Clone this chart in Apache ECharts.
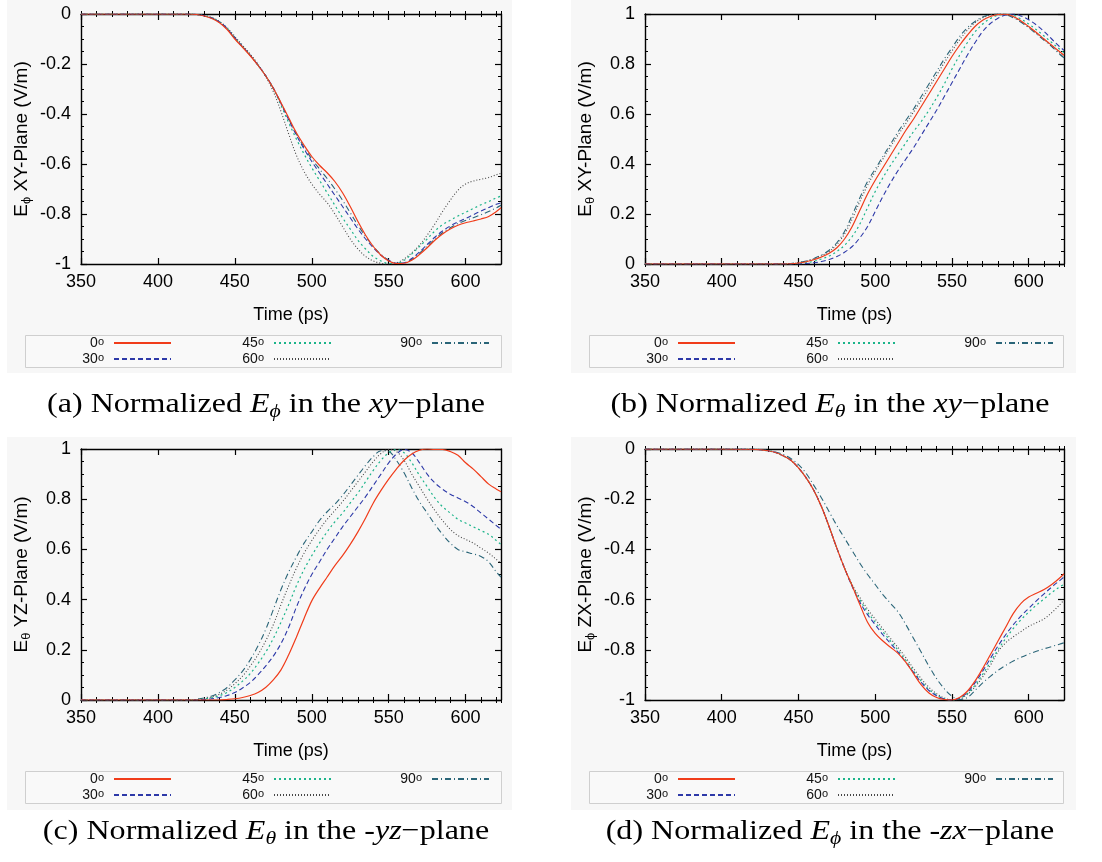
<!DOCTYPE html>
<html>
<head>
<meta charset="utf-8">
<script src="https://cdn.jsdelivr.net/npm/echarts@6/dist/echarts.min.js"></script>
<style>
  html, body { margin: 0; padding: 0; background: #ffffff; }
  #chart { width: 1102px; height: 862px; }
</style>
</head>
<body>
<div id="chart"></div>
<script>
// Sample times (ps), shared by every curve
const time = [350, 400, 420, 425, 430, 435, 440, 445, 450, 455, 460, 465, 470, 475,
  480, 485, 490, 495, 500, 505, 510, 515, 520, 525, 530, 535, 540, 545, 550, 555,
  560, 565, 570, 575, 580, 585, 590, 595, 600, 605, 610, 615, 620, 623];

// Observation angles (degrees) used as series names
const angles = ['0', '30', '45', '60', '90'];
const xTickValues = [350, 400, 450, 500, 550, 600];

// (a) normalized E_phi, xy-plane
const xyPhi0 = [0, 0, 0, -0.002, -0.008, -0.018, -0.035, -0.062, -0.1, -0.133, -0.167, -0.205, -0.247, -0.297, -0.355, -0.415, -0.475, -0.525, -0.57, -0.605, -0.635, -0.67, -0.715, -0.77, -0.83, -0.885, -0.93, -0.965, -0.988, -0.998, -0.997, -0.985, -0.962, -0.935, -0.905, -0.88, -0.86, -0.845, -0.835, -0.828, -0.82, -0.81, -0.79, -0.775];
const xyPhi30 = [0, 0, 0, -0.002, -0.007, -0.016, -0.032, -0.058, -0.095, -0.13, -0.165, -0.204, -0.246, -0.296, -0.358, -0.423, -0.485, -0.54, -0.59, -0.635, -0.68, -0.725, -0.77, -0.815, -0.86, -0.9, -0.935, -0.965, -0.985, -0.997, -0.995, -0.978, -0.952, -0.922, -0.893, -0.868, -0.848, -0.832, -0.818, -0.803, -0.788, -0.774, -0.761, -0.755];
const xyPhi45 = [0, 0, 0, -0.002, -0.007, -0.016, -0.032, -0.058, -0.095, -0.13, -0.165, -0.204, -0.246, -0.298, -0.365, -0.435, -0.5, -0.56, -0.615, -0.665, -0.715, -0.765, -0.815, -0.86, -0.905, -0.94, -0.97, -0.988, -0.998, -0.998, -0.985, -0.96, -0.93, -0.9, -0.868, -0.843, -0.825, -0.808, -0.793, -0.778, -0.763, -0.75, -0.735, -0.728];
const xyPhi60 = [0, 0, 0, -0.002, -0.006, -0.014, -0.03, -0.055, -0.09, -0.125, -0.16, -0.2, -0.25, -0.31, -0.39, -0.48, -0.565, -0.63, -0.68, -0.72, -0.755, -0.8, -0.85, -0.9, -0.94, -0.97, -0.988, -0.997, -1.0, -0.995, -0.98, -0.955, -0.925, -0.885, -0.84, -0.79, -0.745, -0.705, -0.68, -0.668, -0.661, -0.654, -0.643, -0.637];
const xyPhi90 = [0, 0, 0, -0.002, -0.007, -0.016, -0.033, -0.06, -0.097, -0.132, -0.166, -0.205, -0.247, -0.297, -0.357, -0.42, -0.48, -0.533, -0.58, -0.62, -0.658, -0.7, -0.745, -0.795, -0.845, -0.89, -0.93, -0.962, -0.985, -0.997, -0.996, -0.982, -0.957, -0.928, -0.9, -0.875, -0.855, -0.838, -0.826, -0.815, -0.803, -0.79, -0.775, -0.765];

// (b) normalized E_theta, xy-plane
const xyTheta0 = [0, 0, 0, 0, 0, 0, 0, 0.001, 0.004, 0.009, 0.017, 0.028, 0.043, 0.065, 0.1, 0.15, 0.215, 0.28, 0.335, 0.385, 0.435, 0.485, 0.535, 0.58, 0.63, 0.68, 0.73, 0.78, 0.83, 0.875, 0.915, 0.95, 0.975, 0.99, 0.998, 0.999, 0.99, 0.972, 0.95, 0.926, 0.9, 0.875, 0.85, 0.835];
const xyTheta30 = [0, 0, 0, 0, 0, 0, 0, 0, 0, 0.002, 0.005, 0.01, 0.018, 0.03, 0.047, 0.07, 0.105, 0.15, 0.21, 0.27, 0.325, 0.375, 0.42, 0.465, 0.515, 0.565, 0.615, 0.67, 0.725, 0.78, 0.835, 0.885, 0.93, 0.962, 0.983, 0.996, 1.0, 0.992, 0.977, 0.956, 0.93, 0.9, 0.87, 0.855];
const xyTheta45 = [0, 0, 0, 0, 0, 0, 0, 0, 0.002, 0.005, 0.011, 0.02, 0.032, 0.05, 0.075, 0.11, 0.16, 0.225, 0.29, 0.345, 0.395, 0.44, 0.485, 0.53, 0.57, 0.615, 0.665, 0.72, 0.78, 0.835, 0.885, 0.928, 0.96, 0.982, 0.995, 1.0, 0.995, 0.98, 0.96, 0.937, 0.912, 0.886, 0.86, 0.845];
const xyTheta60 = [0, 0, 0, 0, 0, 0, 0.001, 0.001, 0.005, 0.011, 0.02, 0.033, 0.05, 0.078, 0.12, 0.18, 0.25, 0.315, 0.37, 0.42, 0.47, 0.517, 0.562, 0.608, 0.655, 0.705, 0.755, 0.805, 0.852, 0.897, 0.935, 0.965, 0.985, 0.995, 1.0, 0.998, 0.988, 0.97, 0.948, 0.923, 0.898, 0.873, 0.845, 0.83];
const xyTheta90 = [0, 0, 0, 0, 0, 0, 0.001, 0.002, 0.006, 0.012, 0.022, 0.036, 0.055, 0.085, 0.13, 0.195, 0.265, 0.33, 0.38, 0.43, 0.48, 0.53, 0.575, 0.62, 0.67, 0.72, 0.77, 0.82, 0.865, 0.91, 0.945, 0.97, 0.988, 0.997, 1.0, 0.997, 0.985, 0.967, 0.945, 0.92, 0.895, 0.87, 0.84, 0.825];

// (c) normalized E_theta, -yz-plane
const yzTheta0 = [0, 0, 0, 0, 0, 0, 0, 0.002, 0.005, 0.01, 0.018, 0.03, 0.05, 0.08, 0.12, 0.18, 0.25, 0.325, 0.395, 0.445, 0.49, 0.535, 0.575, 0.62, 0.67, 0.725, 0.785, 0.835, 0.88, 0.92, 0.955, 0.98, 0.995, 1.0, 0.998, 0.998, 0.99, 0.975, 0.945, 0.92, 0.89, 0.86, 0.84, 0.83];
const yzTheta30 = [0, 0, 0, 0, 0.002, 0.005, 0.01, 0.018, 0.03, 0.048, 0.07, 0.1, 0.135, 0.175, 0.225, 0.29, 0.37, 0.44, 0.5, 0.55, 0.6, 0.645, 0.69, 0.73, 0.77, 0.81, 0.855, 0.9, 0.945, 0.98, 0.998, 0.985, 0.945, 0.9, 0.865, 0.84, 0.82, 0.805, 0.79, 0.77, 0.745, 0.72, 0.695, 0.68];
const yzTheta45 = [0, 0, 0, 0.001, 0.004, 0.009, 0.017, 0.03, 0.05, 0.075, 0.105, 0.145, 0.19, 0.245, 0.31, 0.38, 0.455, 0.52, 0.575, 0.625, 0.67, 0.71, 0.745, 0.785, 0.825, 0.87, 0.915, 0.955, 0.985, 0.998, 0.985, 0.945, 0.895, 0.85, 0.805, 0.77, 0.745, 0.72, 0.705, 0.69, 0.675, 0.66, 0.635, 0.62];
const yzTheta60 = [0, 0, 0, 0.002, 0.006, 0.012, 0.023, 0.04, 0.065, 0.095, 0.135, 0.18, 0.235, 0.3, 0.38, 0.455, 0.525, 0.585, 0.635, 0.68, 0.72, 0.755, 0.79, 0.83, 0.87, 0.91, 0.95, 0.982, 0.998, 0.99, 0.955, 0.9, 0.85, 0.8, 0.755, 0.715, 0.68, 0.655, 0.64, 0.625, 0.605, 0.585, 0.56, 0.545];
const yzTheta90 = [0, 0, 0, 0.003, 0.008, 0.016, 0.03, 0.05, 0.08, 0.115, 0.16, 0.215, 0.28, 0.36, 0.44, 0.51, 0.57, 0.625, 0.67, 0.715, 0.75, 0.78, 0.815, 0.855, 0.895, 0.935, 0.97, 0.993, 0.99, 0.955, 0.905, 0.845, 0.79, 0.745, 0.7, 0.66, 0.625, 0.6, 0.59, 0.582, 0.572, 0.55, 0.51, 0.49];

// (d) normalized E_phi, -zx-plane
const zxPhi0 = [0, 0, -0.001, -0.003, -0.007, -0.014, -0.027, -0.045, -0.075, -0.115, -0.165, -0.23, -0.31, -0.395, -0.475, -0.545, -0.62, -0.69, -0.735, -0.765, -0.79, -0.815, -0.85, -0.895, -0.94, -0.972, -0.99, -0.998, -1.0, -0.99, -0.965, -0.925, -0.875, -0.82, -0.765, -0.71, -0.655, -0.615, -0.59, -0.575, -0.56, -0.54, -0.515, -0.497];
const zxPhi30 = [0, 0, -0.001, -0.003, -0.007, -0.014, -0.027, -0.045, -0.075, -0.115, -0.165, -0.23, -0.31, -0.395, -0.475, -0.548, -0.61, -0.66, -0.7, -0.74, -0.775, -0.81, -0.85, -0.89, -0.93, -0.962, -0.983, -0.996, -1.0, -0.992, -0.97, -0.932, -0.885, -0.835, -0.785, -0.74, -0.7, -0.665, -0.635, -0.605, -0.577, -0.55, -0.525, -0.51];
const zxPhi45 = [0, 0, -0.001, -0.003, -0.007, -0.014, -0.027, -0.045, -0.075, -0.115, -0.165, -0.23, -0.31, -0.395, -0.475, -0.545, -0.6, -0.65, -0.69, -0.728, -0.765, -0.803, -0.842, -0.885, -0.925, -0.958, -0.98, -0.995, -1.0, -0.994, -0.975, -0.942, -0.898, -0.85, -0.8, -0.755, -0.715, -0.68, -0.65, -0.622, -0.597, -0.572, -0.55, -0.54];
const zxPhi60 = [0, 0, -0.001, -0.003, -0.007, -0.014, -0.027, -0.045, -0.075, -0.115, -0.165, -0.23, -0.31, -0.395, -0.473, -0.54, -0.592, -0.638, -0.678, -0.717, -0.755, -0.792, -0.832, -0.875, -0.915, -0.95, -0.975, -0.992, -1.0, -0.996, -0.978, -0.948, -0.908, -0.862, -0.808, -0.772, -0.748, -0.727, -0.707, -0.692, -0.677, -0.652, -0.622, -0.602];
const zxPhi90 = [0, 0, 0, -0.002, -0.006, -0.012, -0.022, -0.038, -0.062, -0.097, -0.145, -0.195, -0.25, -0.305, -0.355, -0.405, -0.455, -0.5, -0.54, -0.58, -0.615, -0.65, -0.7, -0.755, -0.81, -0.865, -0.915, -0.955, -0.985, -0.998, -0.99, -0.962, -0.932, -0.906, -0.882, -0.862, -0.845, -0.83, -0.817, -0.806, -0.796, -0.787, -0.778, -0.772];

// Line appearance per angle
const lineLook = {
  '0':  { color: '#f03c1a', type: 'solid', width: 1.2 },
  '30': { color: '#2d39a8', type: [5, 3], width: 1.1 },
  '45': { color: '#1cb48a', type: [2, 3], width: 1.2 },
  '60': { color: '#474747', type: [1, 2], width: 1.1 },
  '90': { color: '#2a6578', type: [6, 3, 1, 3], width: 1.1 }
};

const SANS = '"Liberation Sans", Arial, sans-serif';
const SERIF = '"Liberation Serif", "Times New Roman", serif';
const W = 1102;

const panels = [
  { grid: { left: 81, top: 14, width: 420, height: 250 }, yMin: -1, yMax: 0,
    sym: 'ϕ', plane: 'XY', curves: [xyPhi0, xyPhi30, xyPhi45, xyPhi60, xyPhi90],
    bg: [7, 0, 505, 373], box: [25, 335, 476, 32], legendTop: 336,
    cap: { x: 266, y: 405, tag: '(a)', sym: 'ϕ', pre: '', plane: 'xy' } },
  { grid: { left: 645, top: 14, width: 419, height: 250 }, yMin: 0, yMax: 1,
    sym: 'θ', plane: 'XY', curves: [xyTheta0, xyTheta30, xyTheta45, xyTheta60, xyTheta90],
    bg: [571, 0, 505, 373], box: [589, 335, 474, 32], legendTop: 336,
    cap: { x: 830, y: 405, tag: '(b)', sym: 'θ', pre: '', plane: 'xy' } },
  { grid: { left: 81, top: 449, width: 420, height: 251 }, yMin: 0, yMax: 1,
    sym: 'θ', plane: 'YZ', curves: [yzTheta0, yzTheta30, yzTheta45, yzTheta60, yzTheta90],
    bg: [7, 437, 505, 373], box: [25, 771, 476, 32], legendTop: 772,
    cap: { x: 266, y: 832, tag: '(c)', sym: 'θ', pre: '-', plane: 'yz' } },
  { grid: { left: 645, top: 449, width: 419, height: 251 }, yMin: -1, yMax: 0,
    sym: 'ϕ', plane: 'ZX', curves: [zxPhi0, zxPhi30, zxPhi45, zxPhi60, zxPhi90],
    bg: [571, 437, 505, 373], box: [589, 771, 474, 32], legendTop: 772,
    cap: { x: 830, y: 832, tag: '(d)', sym: 'ϕ', pre: '-', plane: 'zx' } }
];

const grid = [], xAxis = [], yAxis = [], series = [], legend = [], graphic = [];

const frame = { show: true, onZero: false, lineStyle: { color: '#000', width: 1.4 } };

panels.forEach((p, i) => {
  grid.push(Object.assign({ containLabel: false }, p.grid));

  const xBase = { gridIndex: i, type: 'value', min: 350, max: 623, splitLine: { show: false } };
  // bottom axis with labels and major ticks
  xAxis.push(Object.assign({}, xBase, {
    position: 'bottom', interval: 50, axisLine: frame,
    axisTick: { inside: true, length: 6, lineStyle: { color: '#000', width: 1.2 },
      customValues: xTickValues },
    axisLabel: { fontFamily: SANS, fontSize: 18, color: '#000', margin: 9,
      customValues: xTickValues },
    name: 'Time (ps)', nameLocation: 'middle', nameGap: 42,
    nameTextStyle: { fontFamily: SANS, fontSize: 18, color: '#000' }
  }));
  // bottom minor ticks every 10 ps
  xAxis.push(Object.assign({}, xBase, {
    position: 'bottom', interval: 10, axisLine: { show: false },
    axisTick: { inside: true, length: 3, lineStyle: { color: '#000', width: 1 } },
    axisLabel: { show: false }
  }));
  // top mirror: major ticks
  xAxis.push(Object.assign({}, xBase, {
    position: 'top', interval: 50, axisLine: frame,
    axisTick: { inside: true, length: 6, lineStyle: { color: '#000', width: 1.2 },
      customValues: xTickValues },
    axisLabel: { show: false }
  }));
  // top mirror: minor ticks
  xAxis.push(Object.assign({}, xBase, {
    position: 'top', interval: 10, axisLine: { show: false },
    axisTick: { inside: true, length: 3, lineStyle: { color: '#000', width: 1 } },
    axisLabel: { show: false }
  }));

  const yBase = { gridIndex: i, type: 'value', min: p.yMin, max: p.yMax, interval: 0.2,
    splitLine: { show: false }, axisLine: frame,
    axisTick: { inside: true, length: 6, lineStyle: { color: '#000', width: 1.2 } },
    minorTick: { show: true, splitNumber: 4, length: 3, lineStyle: { color: '#000', width: 1 } } };
  yAxis.push(Object.assign({}, yBase, {
    position: 'left',
    axisLabel: { fontFamily: SANS, fontSize: 18, color: '#000', margin: 10 },
    name: '{e|E}{s|' + p.sym + '}{e| ' + p.plane + '-Plane (V/m)}',
    nameLocation: 'middle', nameRotate: 90, nameGap: 48,
    nameTextStyle: { fontFamily: SANS, fontSize: 19, color: '#000',
      rich: {
        e: { fontFamily: SANS, fontSize: 19, lineHeight: 23, color: '#000' },
        s: { fontFamily: SANS, fontSize: 13, lineHeight: 10, verticalAlign: 'bottom', color: '#000' }
      } }
  }));
  yAxis.push(Object.assign({}, yBase, { position: 'right', axisLabel: { show: false } }));

  angles.forEach((a, k) => {
    series.push({
      name: a, type: 'line', xAxisIndex: 4 * i, yAxisIndex: 2 * i,
      data: time.map((t, n) => [t, p.curves[k][n]]),
      symbol: 'none', smooth: 0.35, clip: true,
      lineStyle: lineLook[a], color: lineLook[a].color,
      z: 10 - k
    });
  });

  // legend: three columns, line sample on the right of each label
  const cols = [['0', '30'], ['45', '60'], ['90']];
  const iconEnds = [147, 307, 465];
  cols.forEach((names, c) => {
    legend.push({
      data: names, orient: 'vertical', align: 'right',
      right: W - (p.box[0] + iconEnds[c]), top: p.legendTop,
      itemWidth: 57, itemHeight: 14, itemGap: 2, padding: 0,
      selectedMode: false,
      itemStyle: { opacity: 0, borderWidth: 0 },
      formatter: (name) => '{n|' + name + '}{s|o}',
      textStyle: {
        color: '#111',
        rich: {
          n: { fontFamily: SANS, fontSize: 14, lineHeight: 14, color: '#111' },
          s: { fontFamily: SANS, fontSize: 11, lineHeight: 4, verticalAlign: 'top',
               color: '#111', padding: [0, 5, 0, 0] }
        }
      }
    });
  });

  // panel backdrop and legend frame
  graphic.push({ type: 'rect', z: -20, silent: true,
    shape: { x: p.bg[0], y: p.bg[1], width: p.bg[2], height: p.bg[3] },
    style: { fill: '#f7f7f7' } });
  graphic.push({ type: 'rect', z: -10, silent: true,
    shape: { x: p.box[0] + 0.5, y: p.box[1] + 0.5, width: p.box[2], height: p.box[3] },
    style: { fill: '#f9f9f9', stroke: '#cfcfcf', lineWidth: 1 } });

  // sub-figure caption
  const c = p.cap;
  graphic.push({ type: 'text', z: 5, silent: true, x: c.x, y: c.y, scaleX: 1.145,
    style: {
      text: c.tag + ' Normalized {it|E}{sub|' + c.sym + '} in the ' + c.pre + '{it|' + c.plane + '}−plane',
      font: '28px ' + SERIF, fill: '#000', align: 'center', verticalAlign: 'middle',
      rich: {
        it: { fontFamily: SERIF, fontSize: 28, fontStyle: 'italic', lineHeight: 33, fill: '#000' },
        sub: { fontFamily: SERIF, fontSize: 19, fontStyle: 'italic', lineHeight: 19, verticalAlign: 'bottom', fill: '#000' }
      }
    } });
});

const chart = echarts.init(document.getElementById('chart'), null, { renderer: 'canvas' });
chart.setOption({
  backgroundColor: '#ffffff',
  animation: false,
  grid, xAxis, yAxis, series, legend, graphic
});
</script>
</body>
</html>
